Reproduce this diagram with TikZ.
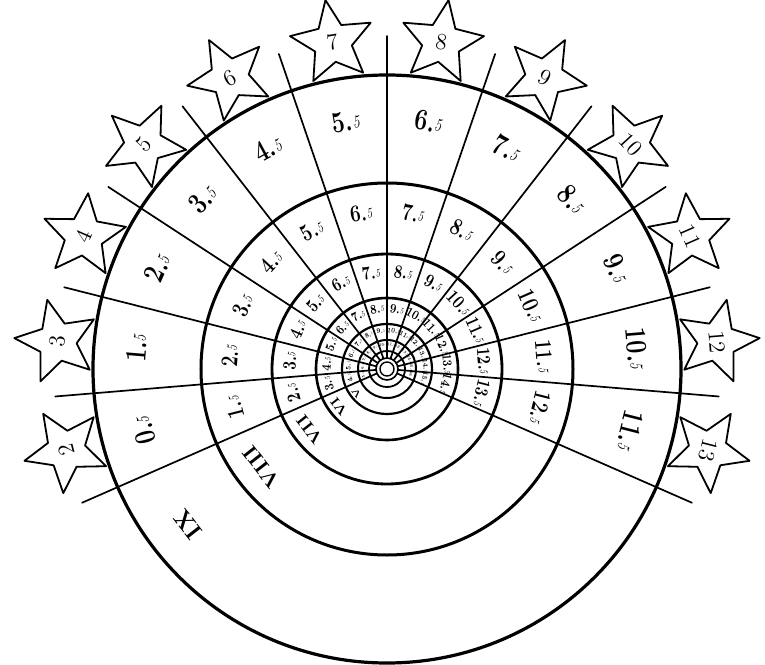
\documentclass[tikz,border=0pt]{standalone}
\usepackage{fontspec}
\usetikzlibrary{shapes.geometric}

\newcommand\half[1]{\scalebox{.78}[1]{\textbf{#1.}\raisebox{.15ex}{\scalebox{.6}{\itshape 5}}}}

\begin{document}
\begin{tikzpicture}[x=0.5pt,y=0.5pt,line cap=round,line join=round,
  every node/.style={inner sep=1pt},
  spoke/.style={line width=0.85pt},
  starbox/.style={star,star points=5,star point ratio=2.2,draw,line width=0.9pt,
    minimum size=43pt,inner sep=0pt,font=\fontsize{11.5}{11.5}\selectfont}]
  \useasboundingbox (-387,-295) rectangle (378,369);
  \def\dt{18.947}
  \foreach \r/\w in {294/1.6,186/1.5,115/1.4,71/1.3,45/1.1,29/1,18/0.9,11/0.8,7/0.7}
    \draw[line width=\w pt] (0,0) circle (\r);
  \foreach \j in {0,...,12}
    \draw[spoke] ({90+(6-\j)*\dt}:11) -- ({90+(6-\j)*\dt}:333);
  \foreach \k/\ro/\ri/\fs in {0/294/186/15,1/186/115/12,2/115/71/9.5,3/71/45/6.5,4/45/29/3.4,5/29/18/2}
    \foreach \i in {0,...,11}{
      \pgfmathsetmacro\a{90+(5.5-\i)*\dt}
      \pgfmathtruncatemacro\n{\i+\k}
      \node[rotate=\a-90,inner sep=0pt,font=\fontsize{\fs}{\fs}\selectfont] (lab-\k-\i)
        at (\a:{\ri+0.6*(\ro-\ri)}) {\half{\n}};
    }
  \foreach \k/\ro/\ri/\fs/\t in {0/294/186/12/IX,1/186/115/10.5/VIII,2/115/71/8.5/VII,3/71/45/6.5/VI,4/45/29/4.5/V}
    \node[rotate=128,font=\fontsize{\fs}{\fs}\bfseries] (rom-\k)
      at (218:{\ri+0.62*(\ro-\ri)}) {\t};
  \foreach \n in {2,...,13}{
    \pgfmathsetmacro\a{90+(7.5-\n)*\dt}
    \node[starbox,rotate=\a-90] (star-\n) at (\a:331) {\n};
  }
\end{tikzpicture}
\end{document}
